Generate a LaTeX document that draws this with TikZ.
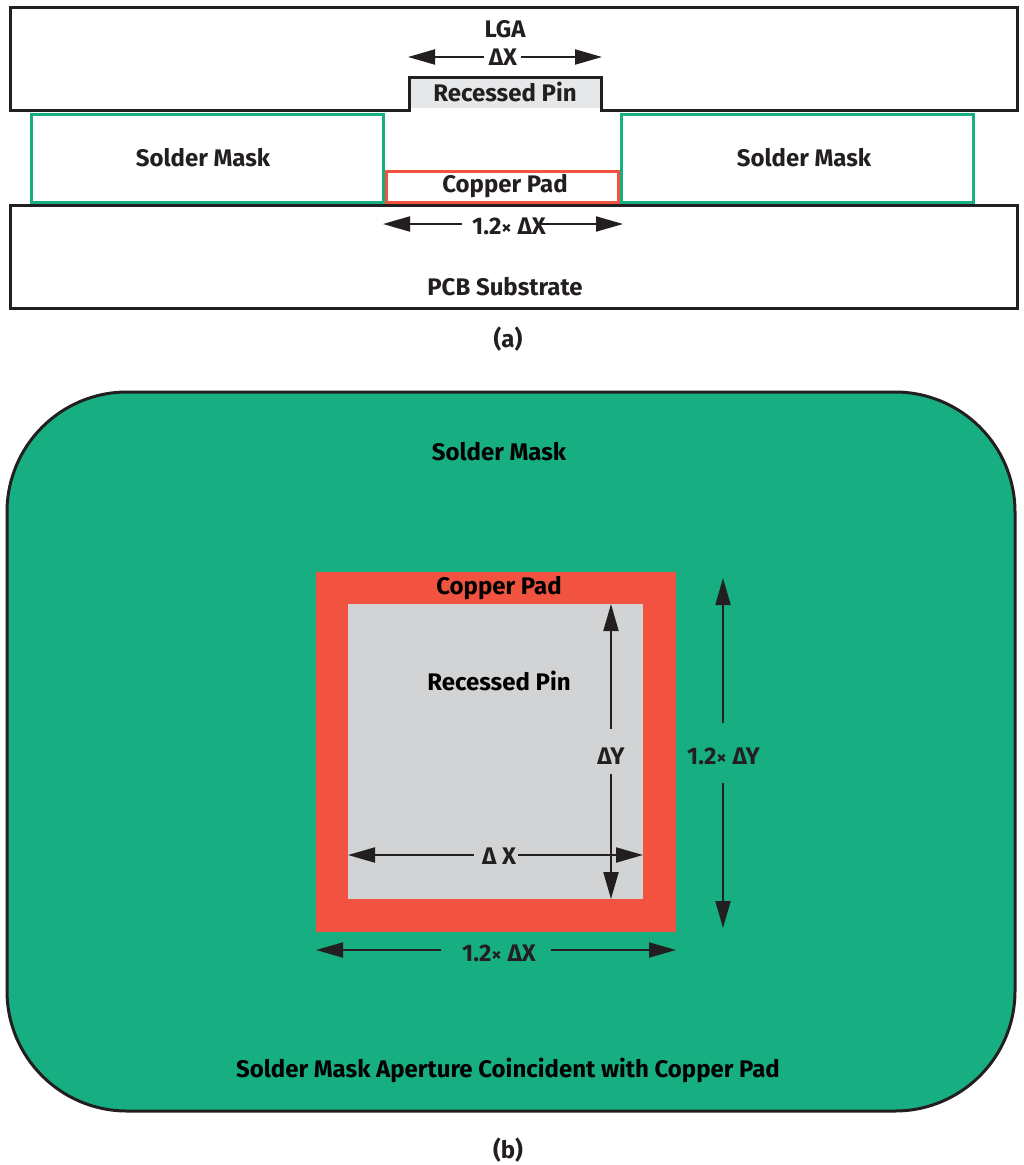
\documentclass[tikz,border=0pt]{standalone}
\usepackage{fontspec}
\setmainfont{Fira Sans}
\usetikzlibrary{arrows.meta}
\definecolor{maskgreen}{HTML}{17AF81}
\definecolor{padred}{HTML}{F15340}
\definecolor{pingrey}{HTML}{D1D3D4}
\definecolor{pinlight}{HTML}{E6E7E8}
\definecolor{inkdark}{HTML}{231F20}
\newcommand{\tms}{{\fontsize{20}{20}\selectfont ×}}
\begin{document}
\begin{tikzpicture}[x=1pt,y=-1pt]

\tikzstyle{block} = [
	draw=inkdark, line width=3pt, rectangle, inner sep=0pt, outer sep=0pt];
\tikzstyle{flat} = [draw=none, rectangle, inner sep=0pt, outer sep=0pt];
\tikzstyle{plain} = [inner sep=0pt, outer sep=0pt, text=inkdark, font=\fontsize{24}{26}\selectfont\bfseries];
\tikzstyle{dim} = [{Triangle[length=27pt,width=15pt]}-, line width=2pt, draw=inkdark];
\useasboundingbox (0,0) rectangle (1024,1165);

\node[flat,fill=pinlight,minimum width=192pt,minimum height=31pt] (pina) at (505,92) {};
\draw[draw=inkdark,line width=3pt] (10,7) -- (1017,7) -- (1017,110) -- (601,110) -- (601,77)
	-- (409,77) -- (409,110) -- (10,110) -- cycle;
\node[block,draw=maskgreen,minimum width=352pt,minimum height=88pt] (maskl) at (207,158) {};
\node[block,draw=maskgreen,minimum width=352pt,minimum height=88pt] (maskr) at (797,158) {};
\node[block,draw=padred,minimum width=232pt,minimum height=31pt] (pada) at (502,186.5) {};
\node[block,minimum width=1007pt,minimum height=103pt] (pcb) at (513.5,256.5) {};

\node[plain] (lga) at (505,29) {LGA};
\node[plain] (dxa) at (503,57) {ΔX};
\node[plain] (pinatxt) at (505,91.5) {Recessed Pin};
\node[plain] (masklt) at (203,158) {Solder Mask};
\node[plain] (maskrt) at (804,158) {Solder Mask};
\node[plain] (padatxt) at (505,186) {Copper Pad};
\node[plain] (cxa) at (509,226) {1.2\tms{} ΔX};
\node[plain] (pcbt) at (505,287) {PCB Substrate};
\node[plain] (capa) at (508,339) {(a)};

\coordinate (dxal) at (408,57);
\coordinate (dxar) at (602,57);
\coordinate (cxal) at (383,224);
\coordinate (cxar) at (623,224);
\draw[dim] (dxal) -- ([xshift=-5pt]dxa.west |- dxal);
\draw[dim] (dxar) -- ([xshift=4pt]dxa.east |- dxar);
\draw[dim] (cxal) -- ([xshift=-10pt]cxa.west |- cxal);
\draw[dim] (cxar) -- ([xshift=-8pt]cxa.east |- cxar);

\node[block,fill=maskgreen,rounded corners=120pt,minimum width=1008pt,minimum height=719pt] (maskb) at (511,751.5) {};
\node[flat,fill=padred,minimum size=360pt] (padb) at (495.5,751.5) {};
\node[flat,fill=pingrey,minimum size=295pt] (pinb) at (495.5,751.5) {};

\node[plain,text=black] (maskbt) at (499,452) {Solder Mask};
\node[plain,text=black] (padbt) at (499,588.5) {Copper Pad};
\node[plain,text=black] (pinbt) at (499,680.5) {Recessed Pin};
\node[plain] (dyb) at (611,756) {ΔY};
\node[plain] (dxb) at (499,856) {Δ X};
\node[plain] (cyb) at (723.5,756) {1.2\tms{} ΔY};
\node[plain] (cxb) at (499,953) {1.2\tms{} ΔX};
\node[plain,text=black] (apt) at (508,1070) {Solder Mask Aperture Coincident with Copper Pad};
\node[plain] (capb) at (508,1150) {(b)};

\coordinate (dyt) at (611,604);
\coordinate (dyl) at (611,899);
\coordinate (dxl) at (348,855);
\coordinate (dxr) at (643,855);
\coordinate (cyt) at (723,578);
\coordinate (cyl) at (723,928);
\coordinate (cxl) at (316,950);
\coordinate (cxr) at (676,950);
\draw[dim] (dyt) -- ([yshift=19pt]dyb.north -| dyt);
\draw[dim] (dyl) -- ([yshift=-10pt]dyb.south -| dyl);
\draw[dim] (dxl) -- ([xshift=-8pt]dxb.west |- dxl);
\draw[dim] (dxr) -- ([xshift=2pt]dxb.east |- dxr);
\draw[dim] (cyt) -- ([yshift=24pt]cyb.north -| cyt);
\draw[dim] (cyl) -- ([yshift=-18pt]cyb.south -| cyl);
\draw[dim] (cxl) -- ([xshift=-21pt]cxb.west |- cxl);
\draw[dim] (cxr) -- ([xshift=15pt]cxb.east |- cxr);

\end{tikzpicture}
\end{document}
